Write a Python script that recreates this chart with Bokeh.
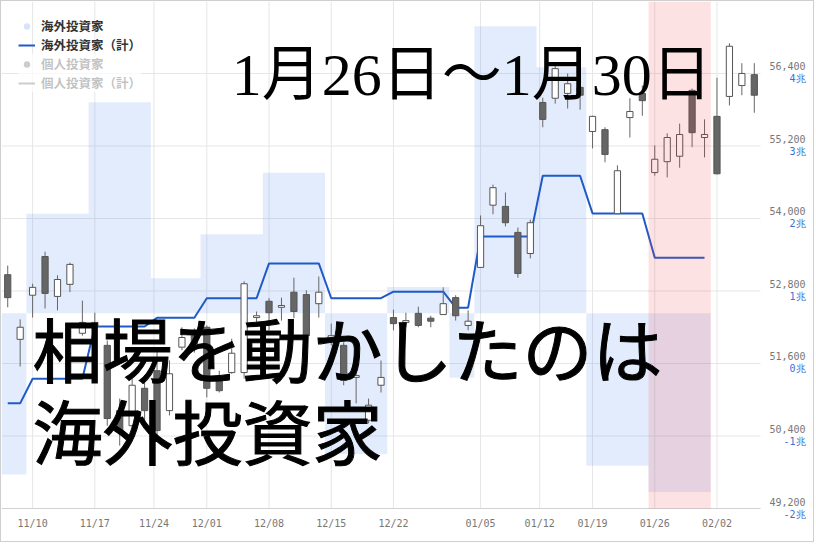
import numpy as np
import pandas as pd
from bokeh.plotting import figure
from bokeh.models import ColumnDataSource, Range1d, BoxAnnotation, Label, Legend, LegendItem
from bokeh.core.properties import value
from bokeh.embed import file_html
from bokeh.resources import INLINE

# ---- daily candles (index level, yen) ----
trade_dates = [
    "2025-11-06", "2025-11-07",
    "2025-11-10", "2025-11-11", "2025-11-12", "2025-11-13", "2025-11-14",
    "2025-11-17", "2025-11-18", "2025-11-19", "2025-11-20", "2025-11-21",
    "2025-11-25", "2025-11-26", "2025-11-27", "2025-11-28",
    "2025-12-01", "2025-12-02", "2025-12-03", "2025-12-04", "2025-12-05",
    "2025-12-08", "2025-12-09", "2025-12-10", "2025-12-11", "2025-12-12",
    "2025-12-15", "2025-12-16", "2025-12-17", "2025-12-18", "2025-12-19",
    "2025-12-22", "2025-12-23", "2025-12-24", "2025-12-25", "2025-12-26",
    "2025-12-29", "2025-12-30",
    "2026-01-05", "2026-01-06", "2026-01-07", "2026-01-08", "2026-01-09",
    "2026-01-13", "2026-01-14", "2026-01-15", "2026-01-16",
    "2026-01-19", "2026-01-20", "2026-01-21", "2026-01-22", "2026-01-23",
    "2026-01-26", "2026-01-27", "2026-01-28", "2026-01-29", "2026-01-30",
    "2026-02-02", "2026-02-03", "2026-02-04", "2026-02-05",
]
opens = [53070, 52000, 52730, 53370, 52710, 52910, 52100, 52200, 51900, 50820,
         50570, 51190, 51480, 50820, 51870, 52060, 52200, 51320, 51450, 51450,
         52360, 52630, 52530, 52780, 52740, 52590, 52010, 51900, 51370, 50660,
         51240, 52360, 52280, 52430, 52350, 52410, 52690, 52230, 53190, 54220,
         54200, 53770, 53420, 55920, 55990, 56070, 56170, 55440, 55470, 54080,
         55670, 56070, 54760, 54940, 55030, 56120, 55340, 55690, 56020, 56200,
         56380]
highs = [53220, 52330, 52920, 53450, 53060, 53270, 52640, 52440, 51980, 51020,
         51400, 51400, 51820, 51650, 52200, 52180, 52230, 51480, 52010, 52960,
         52460, 52680, 52690, 53020, 52810, 53040, 52260, 51950, 51450, 51020,
         51650, 52490, 52440, 52540, 52390, 52860, 52730, 52480, 54050, 54560,
         54430, 53850, 53980, 56000, 56580, 56400, 56230, 55700, 55510, 54880,
         55990, 56200, 55210, 55410, 55570, 56150, 55640, 56330, 56900, 56570,
         56570]
lows = [52530, 51550, 52360, 52510, 52480, 52780, 52060, 52050, 50570, 50240,
        50330, 50660, 50330, 50740, 51820, 51780, 51040, 51120, 51430, 51350,
        52280, 52150, 52310, 52350, 51950, 52360, 51900, 51240, 50940, 50610,
        51120, 52150, 52200, 52200, 52200, 52410, 52310, 52150, 53190, 54070,
        53870, 53020, 53340, 55510, 55900, 55820, 55800, 55160, 54930, 54080,
        55340, 55700, 54710, 54680, 54840, 55180, 55010, 54730, 55870, 56040,
        55750]
closes = [52690, 52200, 52860, 52760, 52990, 53240, 52280, 52280, 50690, 50490,
          51240, 50820, 50490, 51430, 52030, 51900, 51190, 51150, 51770, 52920,
          52390, 52440, 52560, 52460, 52060, 52780, 52060, 51320, 51400, 50910,
          51370, 52260, 52310, 52230, 52300, 52590, 52390, 52300, 53880, 54510,
          53930, 53090, 53930, 55640, 56480, 56230, 56040, 55690, 55060, 54790,
          55770, 55950, 54980, 55340, 55390, 55420, 55390, 54740, 56850, 56400,
          56040]

# ---- weekly net buying by overseas investors (trillion yen) ----
flow_weeks = ["2025-11-03", "2025-11-10", "2025-11-17", "2025-11-24", "2025-12-01",
              "2025-12-08", "2025-12-15", "2025-12-22", "2025-12-29", "2026-01-05",
              "2026-01-12", "2026-01-19", "2026-01-26"]
foreign_flow = [-0.55, 0.34, 0.72, 0.12, 0.27, 0.48, -0.48, 0.09, -0.22, 0.98,
                0.84, -0.52, -0.61]

# ---- axis ticks ----
week_ticks = ["2025-11-10", "2025-11-17", "2025-11-24", "2025-12-01", "2025-12-08",
              "2025-12-15", "2025-12-22", "2026-01-05", "2026-01-12", "2026-01-19",
              "2026-01-26", "2026-02-02"]
week_tick_labels = ["11/10", "11/17", "11/24", "12/01", "12/08", "12/15", "12/22",
                    "01/05", "01/12", "01/19", "01/26", "02/02"]
price_ticks = [49200, 50400, 51600, 52800, 54000, 55200, 56400]
price_tick_labels = ["49,200", "50,400", "51,600", "52,800", "54,000", "55,200", "56,400"]
cho_tick_labels = ["-2兆", "-1兆", "\u00a00兆", "\u00a01兆", "\u00a02兆", "\u00a03兆", "\u00a04兆"]

highlight_week = "2026-01-26"

# ---- derived layout helpers ----
dt = pd.to_datetime(trade_dates)
idx = np.arange(len(dt))
n = len(idx)
day_num = (dt - dt[0]).days.values.astype(float)
monday = (dt - pd.to_timedelta(dt.weekday, unit="D")).normalize()

# tick positions follow calendar time between trading days (holiday Mondays fall in between)
tick_days = (pd.to_datetime(week_ticks) - dt[0]).days.values.astype(float)
tick_pos = [float(v) for v in np.interp(tick_days, day_num, idx)]

fw = pd.to_datetime(flow_weeks)
bar_left, bar_right = [], []
line_x, line_y = [], []
cum = np.cumsum(foreign_flow)
for k, w in enumerate(fw):
    members = idx[monday == w]
    bar_left.append(members.min() - 0.5)
    bar_right.append(members.max() + 0.5)
    for m in members:
        line_x.append(int(m))
        line_y.append(float(cum[k]))

up = [c >= o for o, c in zip(opens, closes)]
candles = ColumnDataSource(dict(
    x=idx, low=lows, high=highs,
    top=[max(o, c) for o, c in zip(opens, closes)],
    bottom=[min(o, c) for o, c in zip(opens, closes)],
    fill=["#ffffff" if u else "#666666" for u in up],
))
bars = ColumnDataSource(dict(left=bar_left, right=bar_right, top=foreign_flow))

# ---- geometry: the plotting frame covers the whole canvas ----
W, H = 814, 542
PX_PER_DAY = 12.443
YEN_PER_PX = 16.55
Y_AXIS = price_ticks[0]                # the date axis sits on the lowest price line
Y1 = 57591
Y0 = Y1 - H * YEN_PER_PX
X0, X_DATA_END = -0.5, n - 0.5
X1 = X0 + W / PX_PER_DAY               # room on the right for the value labels

FLOW_BASE, FLOW_UNIT = 52430, 4850     # bar baseline and 1 trillion in price units
CUM_BASE, CUM_UNIT = 51600, 1200

p = figure(width=W, height=H, x_range=Range1d(X0, X1), y_range=Range1d(Y0, Y1),
           output_backend="svg", toolbar_location=None, x_axis_location=None,
           y_axis_location=None, min_border=0)
p.outline_line_color = None
p.xgrid.grid_line_color = None
p.ygrid.grid_line_color = None
p.background_fill_color = "white"
p.border_fill_color = "white"
p.styles = {"border": "1px solid #cfcfcf"}

p.extra_y_ranges = {
    "flow": Range1d((Y0 - FLOW_BASE) / FLOW_UNIT, (Y1 - FLOW_BASE) / FLOW_UNIT),
    "cum": Range1d((Y0 - CUM_BASE) / CUM_UNIT, (Y1 - CUM_BASE) / CUM_UNIT),
}

# grid lines limited to the chart area
grid_color = "#e6e6e6"
p.segment(x0=X0, x1=X_DATA_END, y0=price_ticks, y1=price_ticks, line_color=grid_color)
p.segment(x0=tick_pos, x1=tick_pos, y0=Y_AXIS, y1=Y1, line_color=grid_color)

# weekly bars
p.quad(left="left", right="right", bottom=0, top="top", source=bars,
       y_range_name="flow", fill_color=(100, 150, 240), fill_alpha=0.18, line_color=None)

# cumulative line
r_cum = p.line(line_x, line_y, y_range_name="cum", line_color="#1e5ac8", line_width=2)

# candlesticks
p.segment(x0="x", y0="low", x1="x", y1="high", source=candles, line_color="#666666",
          line_width=1)
p.vbar(x="x", width=0.5, top="top", bottom="bottom", source=candles,
       fill_color="fill", line_color="#555555", line_width=1)

# date axis: base line and week labels
p.segment(x0=X0, x1=X_DATA_END, y0=Y_AXIS, y1=Y_AXIS, line_color="#d2d2d2")
p.text(x=tick_pos, y=[Y_AXIS - 9 * YEN_PER_PX] * len(tick_pos), text=week_tick_labels,
       text_align="center", text_baseline="top", text_font=value("DejaVu Sans Mono"),
       text_font_size="10px", text_color="#777777")

# highlighted week
hw = idx[monday == pd.Timestamp(highlight_week)]
p.add_layout(BoxAnnotation(left=hw.min() - 0.5, right=hw.max() + 0.5, bottom=Y_AXIS,
                           fill_color="#f03c46", fill_alpha=0.15, line_color=None))

# right-hand value labels: price above each line, trillion yen below it
lab_x = X0 + 804 / PX_PER_DAY
p.text(x=[lab_x] * len(price_ticks), y=[t + 3 * YEN_PER_PX for t in price_ticks],
       text=price_tick_labels, text_align="right", text_baseline="bottom",
       text_font=value("DejaVu Sans Mono"), text_font_size="10px", text_color="#777777")
p.text(x=[lab_x] * len(price_ticks), y=price_ticks, text=cho_tick_labels,
       text_align="right", text_baseline="top", text_font=value("DejaVu Sans Mono"),
       text_font_size="10px", text_color="#3b6fd0")

# legend (individual-investor series are shown switched off)
nan = float("nan")
r_flow_leg = p.scatter([nan], [nan], marker="circle", size=10, fill_color="#d6e4fa",
                       line_color=None)
r_ind_leg = p.scatter([nan], [nan], marker="circle", size=10, fill_color="#555555",
                      line_color=None, visible=False)
r_ind_line = p.line([nan], [nan], line_color="#555555", line_width=2, visible=False)

ROW = 16
legend_h = 4 * ROW
leg = Legend(items=[LegendItem(label="海外投資家", renderers=[r_flow_leg]),
                    LegendItem(label="海外投資家（計）", renderers=[r_cum]),
                    LegendItem(label="個人投資家", renderers=[r_ind_leg]),
                    LegendItem(label="個人投資家（計）", renderers=[r_ind_line])],
             location=(17, H - 27 - legend_h), click_policy="hide",
             label_text_font="Noto Sans CJK JP", label_text_font_style="bold",
             label_text_font_size="12.5px", label_text_color="#333333",
             glyph_width=17, glyph_height=ROW, label_height=ROW, label_standoff=6,
             spacing=0, padding=0, margin=0, border_line_color=None,
             background_fill_alpha=0, inactive_fill_color="white", inactive_fill_alpha=0.7)
p.add_layout(leg)

# headline texts
p.add_layout(Label(x=18.0, y=56370, text="1月26日～1月30日",
                   text_font="Liberation Serif, Noto Sans CJK JP", text_font_size="60px",
                   text_color="black", text_baseline="middle"))
head_font = "Noto Sans CJK JP"
p.add_layout(Label(x=1.99, y=51866, text="相場を動かしたのは", text_font=head_font,
                   text_font_size="70px", text_color="black", text_baseline="middle",
                   text_outline_color="black"))
p.add_layout(Label(x=1.99, y=50510, text="海外投資家", text_font=head_font,
                   text_font_size="70px", text_color="black", text_baseline="middle",
                   text_outline_color="black"))

open("out.html", "w").write(file_html(p, INLINE))
